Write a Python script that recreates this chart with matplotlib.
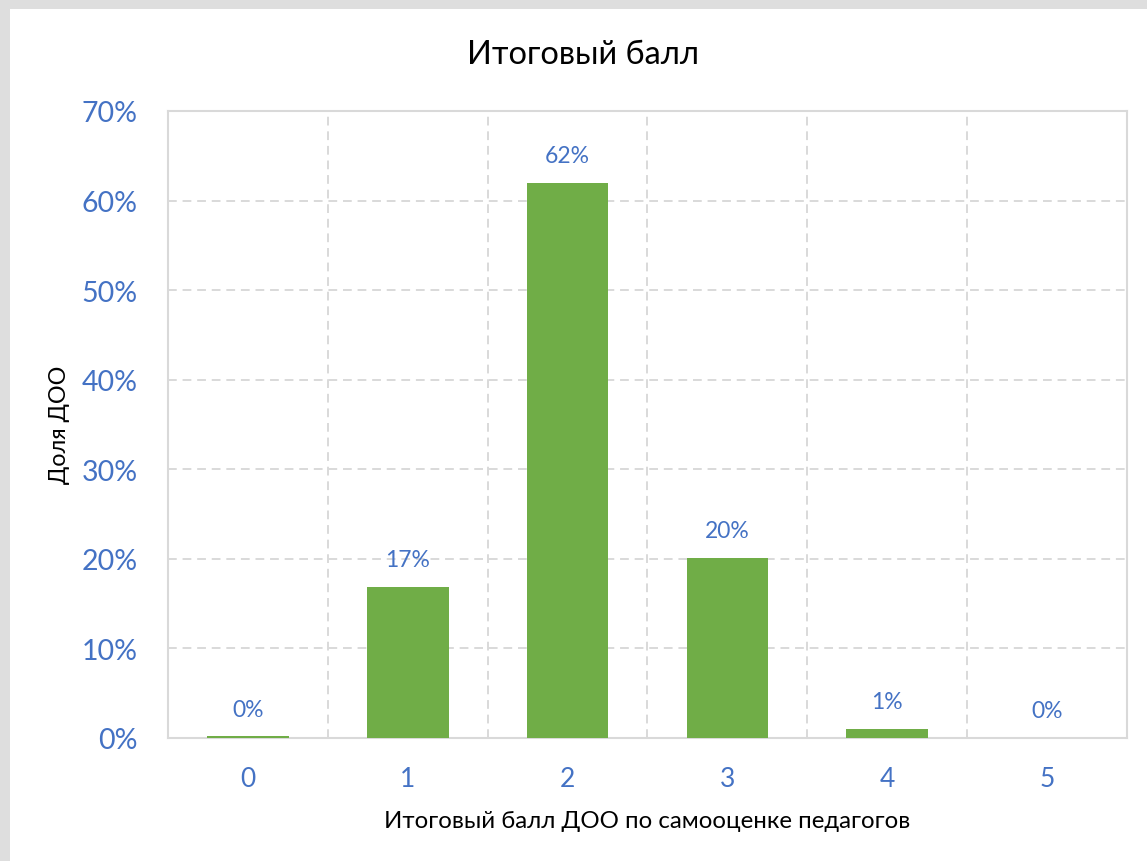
import matplotlib
matplotlib.use("Agg")
import matplotlib.pyplot as plt
from matplotlib.patches import Rectangle
from matplotlib.ticker import MultipleLocator, FuncFormatter

categories = ["0", "1", "2", "3", "4", "5"]
values = [0.2, 16.9, 62.0, 20.1, 1.0, 0.0]
labels = ["0%", "17%", "62%", "20%", "1%", "0%"]

plt.rcParams['font.family'] = ['Lato', 'DejaVu Sans']

W, H = 1147, 862
fig = plt.figure(figsize=(W / 100, H / 100), dpi=100)
fig.patch.set_facecolor("#DEDEDE")
fig.patches.append(Rectangle((10 / W, 0), 1 - 10 / W, 1 - 10 / H, transform=fig.transFigure,
                             facecolor="white", edgecolor="none", zorder=-5))

ax = fig.add_axes([168 / W, 1 - 739 / H, (1127 - 168) / W, (739 - 112) / H])
ax.set_facecolor("white")
blue = "#4472C4"
x = list(range(len(categories)))
bars = ax.bar(x, values, width=0.51, color="#70AD47", zorder=3)
for xi, v, lab in zip(x, values, labels):
    ax.annotate(lab, (xi, v), xytext=(0, 12), textcoords="offset points",
                ha="center", va="bottom", color=blue, fontsize=16.5)

ax.set_xlim(-0.5, 5.5)
ax.set_ylim(0, 70)
ax.set_xticks(x)
ax.set_xticklabels(categories)
ax.set_xticks([i + 0.5 for i in range(-1, 6)], minor=True)
ax.yaxis.set_major_locator(MultipleLocator(10))
ax.yaxis.set_major_formatter(FuncFormatter(lambda v, p: f"{v:.0f}%"))
ax.tick_params(axis="y", length=0, colors=blue, labelsize=20.5, pad=22)
ax.tick_params(axis="x", which="major", length=0, colors=blue, labelsize=19, pad=20)
ax.tick_params(axis="x", which="minor", length=0)
ax.grid(axis="y", which="major", linestyle=(0, (4.5, 3)), color="#D9D9D9", linewidth=1.4, zorder=0)
ax.grid(axis="x", which="minor", linestyle=(0, (4.5, 3)), color="#D9D9D9", linewidth=1.4, zorder=0)
ax.grid(axis="x", which="major", visible=False)
for s in ax.spines.values():
    s.set_color("#D9D9D9")
    s.set_linewidth(1.5)
ax.set_axisbelow(True)

ax.set_xlabel("Итоговый балл ДОО по самооценке педагогов", fontsize=17.3, color="black", labelpad=14)
fig.text(60 / W, 1 - 425 / H, "Доля ДОО", rotation=90, ha="center", va="center", fontsize=16.8, color="black")
fig.text(583 / W, 1 - 55 / H, "Итоговый балл", ha="center", va="center", fontsize=23.5, color="black")

fig.savefig("out.png", dpi=100)
